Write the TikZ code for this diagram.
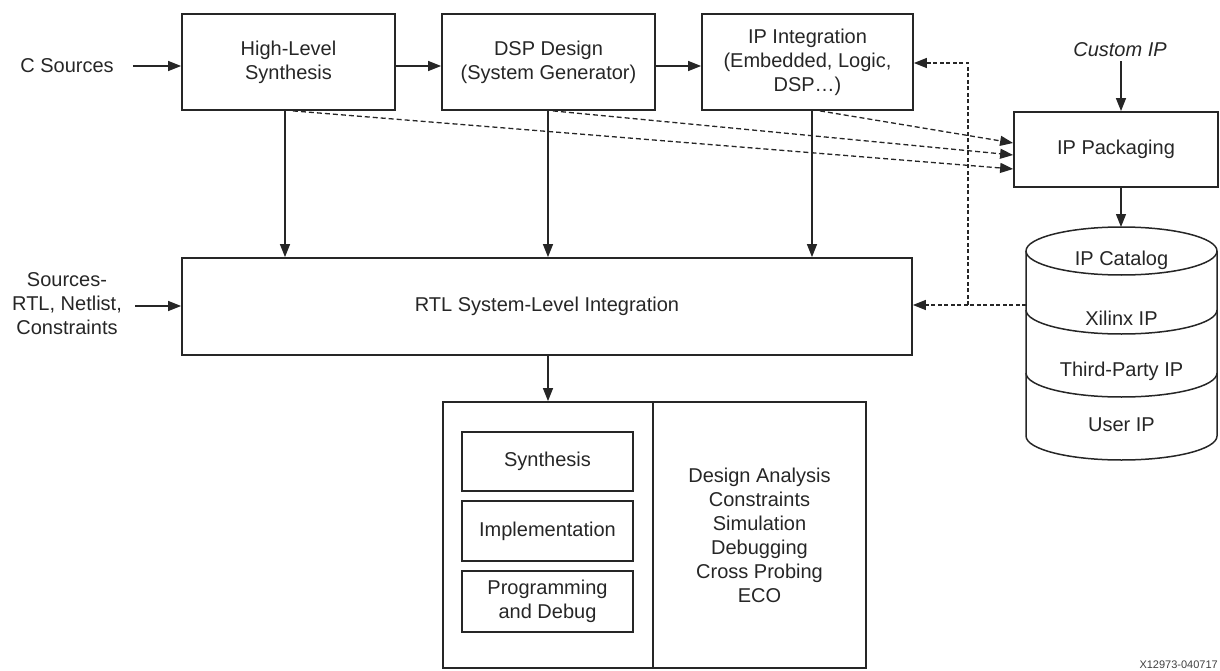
\documentclass[tikz,border=0pt]{standalone}
\usepackage{fontspec}
\setmainfont{Liberation Sans}
\usetikzlibrary{arrows.meta,calc}
\begin{document}
\begin{tikzpicture}[x=1pt,y=-1pt,
  every node/.style={font=\fontsize{20}{24}\selectfont, text=black!85, align=center, inner sep=0pt},
  box/.style={draw=black!85, line width=1.8pt, minimum width=#1},
  arr/.style={draw=black!85, line width=1.3pt, -{Triangle[length=13pt,width=10pt]}},
  dsh/.style={arr, dash pattern=on 5pt off 3pt},
  dot/.style={arr, dash pattern=on 4pt off 2.5pt},
  cyl/.style={draw=black!85, line width=1.5pt}]
\useasboundingbox (0,0) rectangle (1220,671);

% top row
\node (csrc) at (67,66) {C Sources};
\node[box=213pt, minimum height=96pt] (hls) at (288.5,62) {High-Level\\Synthesis};
\node[box=213pt, minimum height=96pt] (dsp) at (548.5,62) {DSP Design\\(System Generator)};
\node[box=211pt, minimum height=96pt] (ipi) at (807.5,62) {IP Integration\\(Embedded, Logic,\\DSP\ldots)};
\node (cip) at (1120,50) {\itshape Custom IP};
\node[box=204pt, minimum height=75pt] (ipp) at (1116,149.5) {IP Packaging};

% RTL
\node (srcs) at (67,304) {Sources-\\RTL, Netlist,\\Constraints};
\node[box=730pt, minimum height=97pt] (rtl) at (547,306.5) {RTL System-Level Integration};

% bottom block
\node[box=210pt, minimum height=266pt] (bl) at (548,535) {};
\node[box=213pt, minimum height=266pt] (br) at (759.5,535) {Design Analysis\\Constraints\\Simulation\\Debugging\\Cross Probing\\ECO};
\node[box=171pt, minimum height=59pt] (syn) at (547.5,461.5) {Synthesis};
\node[box=171pt, minimum height=60pt] (imp) at (547.5,531) {Implementation};
\node[box=171pt, minimum height=61pt] (prg) at (547.5,601.5) {Programming\\and Debug};

% cylinder (IP catalog)
\coordinate (cl) at (1026,251);
\coordinate (cr) at (1217,251);
\draw[cyl] (1121.5,251) ellipse [x radius=95.5, y radius=24];
\draw[cyl] (cl) -- (1026,436) arc[start angle=180, end angle=0, x radius=95.5, y radius=24] -- (cr);
\draw[cyl] (1026,310) arc[start angle=180, end angle=0, x radius=95.5, y radius=24];
\draw[cyl] (1026,373) arc[start angle=180, end angle=0, x radius=95.5, y radius=24];
\node (cat) at (1121.5,260) {IP Catalog};
\node (xil) at (1121.5,318) {Xilinx IP};
\node (tp)  at (1121.5,371) {Third-Party IP};
\node (usr) at (1121.5,425) {User IP};
\coordinate (cyltop) at (1121,227);
\coordinate (cylw) at (1026,305);
\coordinate (junc) at (968,305);

% solid arrows
\draw[arr] ($(csrc.east)+(19,0)$ |- 0,66) -- (hls.west |- 0,66);
\draw[arr] (hls.east |- 0,66) -- (dsp.west |- 0,66);
\draw[arr] (dsp.east |- 0,66) -- (ipi.west |- 0,66);
\draw[arr] (cip.south -| 1121,0) ++(0,4) -- (ipp.north -| 1121,0);
\draw[arr] (ipp.south -| 1121,0) -- (cyltop);
\draw[arr] (hls.south -| 285,0) -- (rtl.north -| 285,0);
\draw[arr] (dsp.south -| 548,0) -- (rtl.north -| 548,0);
\draw[arr] (ipi.south -| 812,0) -- (rtl.north -| 812,0);
\draw[arr] (135,306) -- (rtl.west |- 0,306);
\draw[arr] (rtl.south -| 548,0) -- (bl.north -| 548,0);

% dashed arrows to IP packaging
\draw[dsh] (hls.south -| 293,0) -- (ipp.west |- 0,169);
\draw[dsh] (dsp.south -| 553,0) -- (ipp.west |- 0,155);
\draw[dsh] (ipi.south -| 820,0) -- (ipp.west |- 0,143);

% dotted arrows from catalog
\draw[dot] (cylw) -- (rtl.east |- cylw);
\draw[dot] (junc) -- (968,63) -- (ipi.east |- 0,63);

% figure id
\node[font=\fontsize{11}{13}\selectfont, text=black!75, anchor=base east] (fid) at (1218,668) {X12973-040717};
\end{tikzpicture}
\end{document}
